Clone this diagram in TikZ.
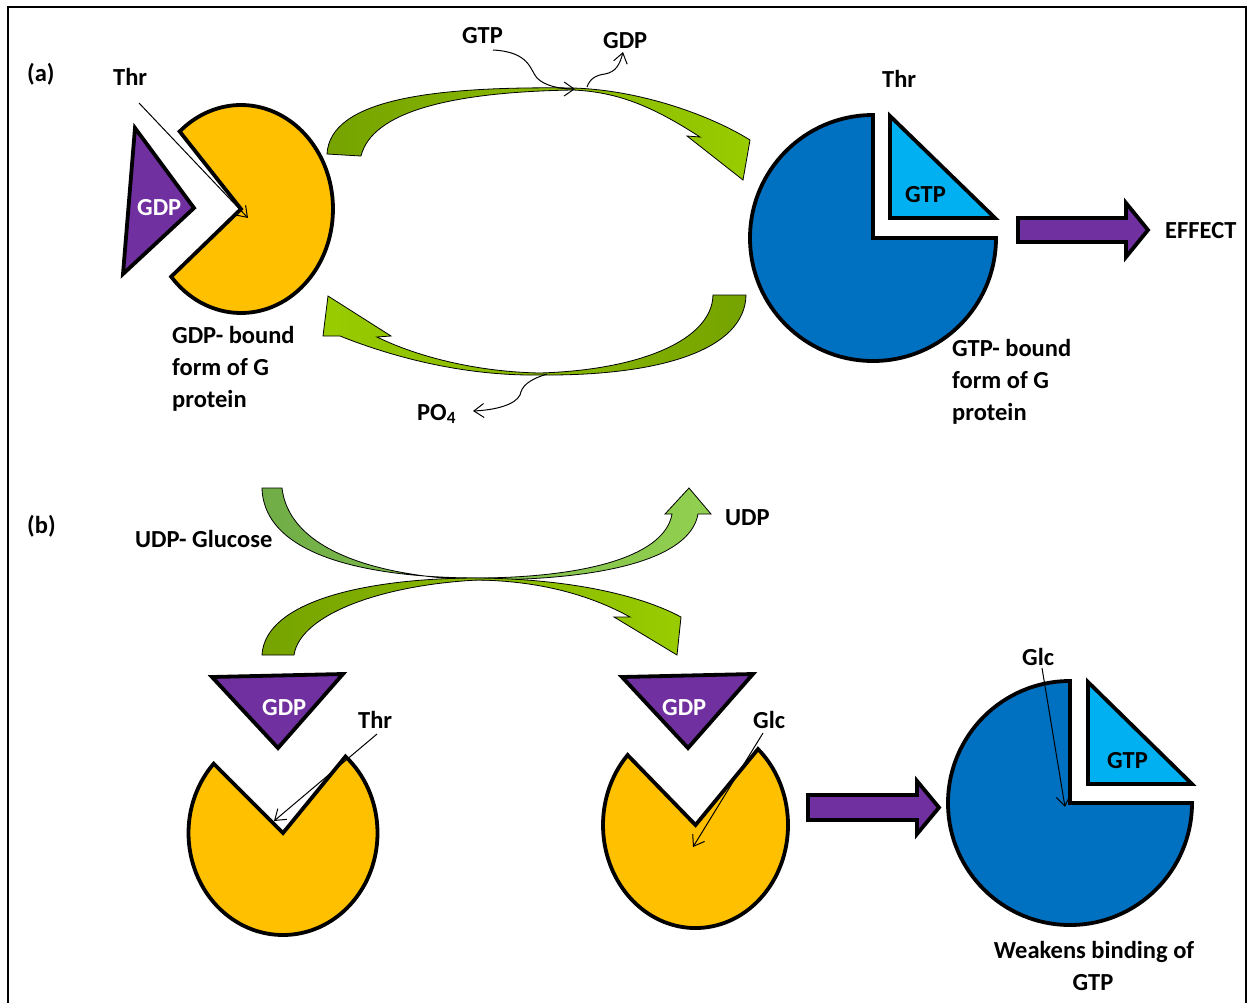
\documentclass[tikz,border=0pt]{standalone}
\usepackage{fontspec}
\setmainfont{Carlito}
\usetikzlibrary{arrows.meta}
\definecolor{pacyel}{HTML}{FFC000}
\definecolor{gpurple}{HTML}{7030A0}
\definecolor{gblue}{HTML}{0070C0}
\definecolor{gcyan}{HTML}{00B0F0}
\definecolor{grDark}{HTML}{76A300}
\definecolor{grLight}{HTML}{99CC00}
\definecolor{grMid}{HTML}{70AD47}
\definecolor{grPale}{HTML}{92D050}
\begin{document}
\begin{tikzpicture}[x=1pt,y=-1pt,
  txt/.style={font=\fontsize{24.5}{32}\selectfont\bfseries, inner sep=0pt},
  lbl/.style={txt, anchor=base west},
  clbl/.style={txt, anchor=base},
  shp/.style={draw=black, line width=3.8pt},
  grn/.style={draw=black, line width=0.8pt},
  lblarrow/.style={draw=black, line width=1pt, -{Straight Barb[length=10pt,width=14pt]}},
  blockarrow/.style={shp, fill=gpurple}]
\useasboundingbox (0,0) rectangle (1253,1002);
\draw[line width=2pt] (8,1010) -- (8,7) -- (1246,7) -- (1246,1010);

% ---------- (a) ----------
\node[lbl] (la) at (27,81) {(a)};
% GDP-bound G protein (yellow pacman)
\draw[shp, fill=pacyel] (241,209) -- (171.15,276.68)
  arc[start angle=139.4, end angle=-131.8, x radius=92, y radius=104] -- cycle;
\coordinate (pacA) at (241,209);
% GDP triangle
\draw[shp, fill=gpurple] (135,128) -- (194,208) -- (123,274) -- cycle;
\node[lbl, text=white] (gdpA) at (137,215) {GDP};
% GTP-bound G protein (blue pie)
\draw[shp, fill=gblue] (873,238) -- (873,115) arc[start angle=270, end angle=0, radius=123] -- cycle;
\draw[shp, fill=gcyan] (890,116) -- (890,218) -- (995,218) -- cycle;
\node[lbl] (gtpA) at (905,202) {GTP};
% effect arrow
\draw[blockarrow] (1018,218) -- (1126,218) -- (1126,203) -- (1148,230) -- (1126,257) -- (1126,242) -- (1018,242) -- cycle;
\node[lbl] (effect) at (1165,238) {EFFECT};

% upper green curved arrow
\draw[grn, left color=grDark, right color=grLight]
  (327,154) .. controls (330,100) and (430,86) .. (573,88)
  .. controls (640,90) and (710,115) .. (750,140) -- (743,180) -- (687,136) -- (700,137)
  .. controls (655,108) and (620,92) .. (573,90)
  .. controls (450,92) and (372,112) .. (361,156) -- cycle;
% lower green curved arrow
\draw[grn, left color=grLight, right color=grDark]
  (328,296) -- (391,336) -- (377,337)
  .. controls (420,358) and (480,372) .. (540,373)
  .. controls (640,370) and (712,340) .. (713,295) -- (746,295)
  .. controls (745,350) and (660,376) .. (540,375)
  .. controls (470,376) and (400,360) .. (340,336) -- (323,336) -- cycle;

% labels and thin arrows
\node[lbl] (thrA) at (113,85) {Thr};
\coordinate (thrAs) at (139,103);
\draw[lblarrow] (thrAs) -- (248,218);
\node[lbl] (gtpIn) at (462,43) {GTP};
\node[lbl] (gdpOut) at (603,48) {GDP};
\coordinate (gtpInS) at (493,50);
\coordinate (gtpInE) at (575,89);
\draw[lblarrow] (gtpInS) .. controls (530,52) and (530,70) .. (537,78) .. controls (545,86) and (560,89) .. (gtpInE);
\coordinate (gdpOutS) at (587,87);
\coordinate (gdpOutE) at (623,52);
\draw[lblarrow] (gdpOutS) .. controls (590,78) and (597,75) .. (605,74) .. controls (616,72) and (620,64) .. (gdpOutE);
\node[lbl] (po4) at (417,420) {PO\textsubscript{4}};
\coordinate (po4S) at (547,374);
\coordinate (po4E) at (473,411);
\draw[lblarrow] (po4S) .. controls (528,380) and (522,386) .. (520,395) .. controls (515,405) and (495,410) .. (po4E);
\node[lbl] (thrA2) at (882,87) {Thr};
\node[lbl] (gdpb1) at (172,343) {GDP- bound};
\node[lbl] (gdpb2) at (172,375) {form of G};
\node[lbl] (gdpb3) at (172,407) {protein};
\node[lbl] (gtpb1) at (952,356) {GTP- bound};
\node[lbl] (gtpb2) at (952,388) {form of G};
\node[lbl] (gtpb3) at (952,420) {protein};

% ---------- (b) ----------
\node[lbl] (lb) at (27,533) {(b)};
\node[lbl] (udpglc) at (135,547) {UDP- Glucose};
\node[lbl] (udp) at (725,525) {UDP};
% upper crossing arrow (UDP-Glucose -> UDP)
\draw[grn, left color=grMid, right color=grPale]
  (262,488) .. controls (264,560) and (380,578) .. (480,578)
  .. controls (590,577) and (665,555) .. (672,514) -- (665,514) -- (689,488) -- (711,514) -- (698,514)
  .. controls (690,560) and (600,580) .. (480,580)
  .. controls (390,578) and (290,555) .. (282,488) -- cycle;
% lower crossing arrow
\draw[grn, left color=grDark, right color=grLight]
  (262,655) .. controls (265,600) and (370,578) .. (478,578)
  .. controls (570,579) and (640,595) .. (681,617) -- (677,655) -- (614,617) -- (630,617)
  .. controls (590,595) and (540,581) .. (478,580)
  .. controls (380,585) and (300,615) .. (294,655) -- cycle;

% bottom-left: GDP + pacman
\draw[shp, fill=gpurple] (212,677) -- (343,674) -- (278,748) -- cycle;
\node[lbl, text=white] (gdpB1) at (262,715) {GDP};
\draw[shp, fill=pacyel] (283,833) -- (345.5,756.5)
  arc[start angle=-48.6, end angle=222.8, x radius=94.5, y radius=102] -- cycle;
\node[lbl] (thrB) at (358,728) {Thr};
\coordinate (thrBs) at (377,734);
\draw[lblarrow] (thrBs) -- (274,821);

% bottom-middle: GDP + pacman
\draw[shp, fill=gpurple] (622,677) -- (753,674) -- (688,748) -- cycle;
\node[lbl, text=white] (gdpB2) at (662,715) {GDP};
\draw[shp, fill=pacyel] (695.5,825) -- (758,749.1)
  arc[start angle=-47.5, end angle=222.8, x radius=92.5, y radius=103] -- cycle;
\node[lbl] (glcB) at (753,728) {Glc};
\coordinate (glcBs) at (763,733);
\draw[lblarrow] (glcBs) -- (693,847);

% arrow to result
\draw[blockarrow] (808,795) -- (917,795) -- (917,781) -- (939,807.5) -- (917,834) -- (917,820) -- (808,820) -- cycle;

% bottom-right: blue pie + GTP
\draw[shp, fill=gblue] (1070,803) -- (1070,681) arc[start angle=270, end angle=0, radius=122] -- cycle;
\draw[shp, fill=gcyan] (1088,682) -- (1088,784) -- (1192,784) -- cycle;
\node[lbl] (gtpB) at (1107,768) {GTP};
\node[lbl] (glcC) at (1022,665) {Glc};
\coordinate (glcCs) at (1042,668);
\draw[lblarrow] (glcCs) -- (1065,807);
\node[clbl] (weak1) at (1094,958) {Weakens binding of};
\node[clbl] (weak2) at (1093,990) {GTP};
\end{tikzpicture}
\end{document}
